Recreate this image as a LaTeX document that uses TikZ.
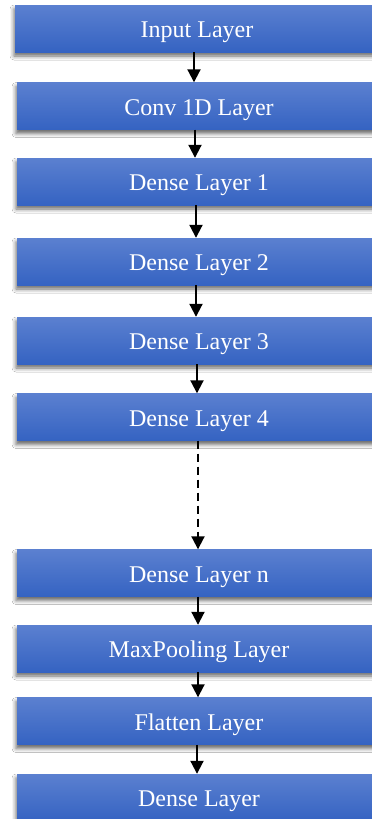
\documentclass[tikz,border=0pt]{standalone}
\usepackage{fontspec}
\setmainfont{Liberation Serif}
\usetikzlibrary{arrows.meta,shadows.blur,calc}
\definecolor{boxtop}{HTML}{5B80D0}
\definecolor{boxbot}{HTML}{3563C2}
\tikzset{
  layerbox/.style={rectangle, minimum width=364pt, minimum height=47pt,
    top color=boxtop, bottom color=boxbot, draw=none, text=white,
    font=\fontsize{24}{27}\selectfont, inner sep=0pt, text depth=0pt,
    text height=18.5pt,
    blur shadow={shadow xshift=-1pt, shadow yshift=-4pt, shadow blur radius=4pt, shadow opacity=60}},
  flow/.style={line width=2pt, -{Triangle[length=13pt,width=13pt]}},
  dflow/.style={flow, dash pattern=on 8pt off 5pt}
}
\begin{document}
\begin{tikzpicture}[x=1pt,y=-1pt]
\useasboundingbox (0,0) rectangle (372,819);
\clip (0,0) rectangle (372,819);
\fill[white] (0,0) rectangle (372,819);
\node[layerbox] (in) at (197,28.5) {Input Layer};
\node[layerbox] (conv) at (199,106) {Conv 1D Layer};
\node[layerbox] (d1) at (199,181.5) {Dense Layer 1};
\node[layerbox] (d2) at (199,261.5) {Dense Layer 2};
\node[layerbox] (d3) at (199,340.5) {Dense Layer 3};
\node[layerbox] (d4) at (199,417) {Dense Layer 4};
\node[layerbox] (dn) at (199,573) {Dense Layer n};
\node[layerbox] (mp) at (199,648.5) {MaxPooling Layer};
\node[layerbox] (fl) at (199,721) {Flatten Layer};
\node[layerbox] (out) at (199,797.5) {Dense Layer};
\draw[flow] ($(in.south)+(-3,0)$) -- ($(conv.north)+(-5,0)$);
\draw[flow] ($(conv.south)+(-4,0)$) -- ($(d1.north)+(-4,0)$);
\draw[flow] ($(d1.south)+(-3,0)$) -- ($(d2.north)+(-3,0)$);
\draw[flow] ($(d2.south)+(-3,0)$) -- ($(d3.north)+(-3,0)$);
\draw[flow] ($(d3.south)+(-2,0)$) -- ($(d4.north)+(-2,0)$);
\draw[dflow] ($(d4.south)+(-1,0)$) -- ($(dn.north)+(-1,0)$);
\draw[flow] ($(dn.south)+(-1,0)$) -- ($(mp.north)+(-1,0)$);
\draw[flow] ($(mp.south)+(-1,0)$) -- ($(fl.north)+(-1,0)$);
\draw[flow] ($(fl.south)+(-2,0)$) -- ($(out.north)+(-2,0)$);
\end{tikzpicture}
\end{document}
